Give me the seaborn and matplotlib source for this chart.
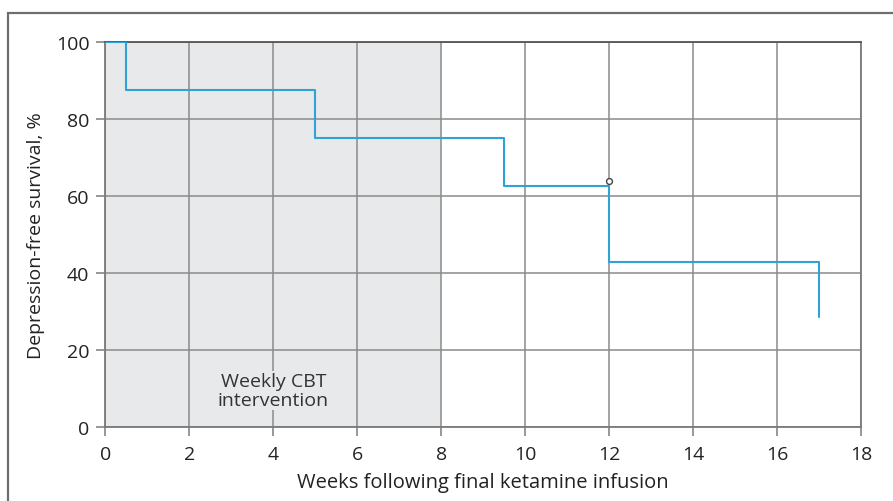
import matplotlib
matplotlib.use("Agg")
import matplotlib.pyplot as plt
import seaborn as sns
import pandas as pd
from matplotlib.patches import Rectangle

# Data
weeks = [0, 0.5, 5, 9.5, 12, 17]
survival = [100, 87.5, 75, 62.5, 42.86, 28.57]
censor_weeks = [12]
censor_survival = [63.8]
cbt_start, cbt_end = 0, 8
xticks = [0, 2, 4, 6, 8, 10, 12, 14, 16, 18]
yticks = [0, 20, 40, 60, 80, 100]

sns.set_theme(style="white")
plt.rcParams['font.family'] = ['Open Sans', 'DejaVu Sans']

fig = plt.figure(figsize=(8.93, 5.02), dpi=100)
ax = fig.add_axes([0.118, 0.1484, 0.846, 0.7656])

# outer frame
fig.patches.append(Rectangle((0.0095, -0.2), 1.5, 1.172, transform=fig.transFigure,
                             fill=False, edgecolor='#6e6e6e', linewidth=1.6, zorder=0))

ax.axvspan(cbt_start, cbt_end, color='#e8e9eb', zorder=0, lw=0)

df = pd.DataFrame({"week": weeks, "survival": survival})
sns.lineplot(data=df, x="week", y="survival", ax=ax, estimator=None, sort=False,
             drawstyle='steps-post', color='#2fa3d6', linewidth=1.5, zorder=3)

cdf = pd.DataFrame({"week": censor_weeks, "survival": censor_survival})
sns.scatterplot(data=cdf, x="week", y="survival", ax=ax, marker='o', s=18,
                facecolor='white', edgecolor='#444444', linewidth=1.0, zorder=4)

ax.set_xlim(0, 18)
ax.set_ylim(0, 100)
ax.set_xticks(xticks)
ax.set_yticks(yticks)
ax.grid(True, color='#8a8a8a', linewidth=1.1)
ax.set_axisbelow(True)
for s in ax.spines.values():
    s.set_color('#7a7a7a')
    s.set_linewidth(1.3)
ax.spines['top'].set_color('#555555')
ax.tick_params(axis='both', which='major', direction='out', length=6.5, width=1.1,
               color='#7a7a7a', labelsize=14, labelcolor='#222222', pad=5,
               bottom=True, left=True)
ax.tick_params(axis='x', pad=7)

ax.set_xlabel("Weeks following final ketamine infusion", fontsize=14.5, color='#222222', labelpad=6)
ax.set_ylabel("Depression-free survival, %", fontsize=14, color='#222222', labelpad=8)

ax.text(4, 9.3, "Weekly CBT\nintervention", ha='center', va='center', fontsize=14,
        color='#333333', linespacing=1.1,
        bbox=dict(facecolor='#e8e9eb', edgecolor='none', pad=0.5))

fig.savefig("out.png", dpi=100)
